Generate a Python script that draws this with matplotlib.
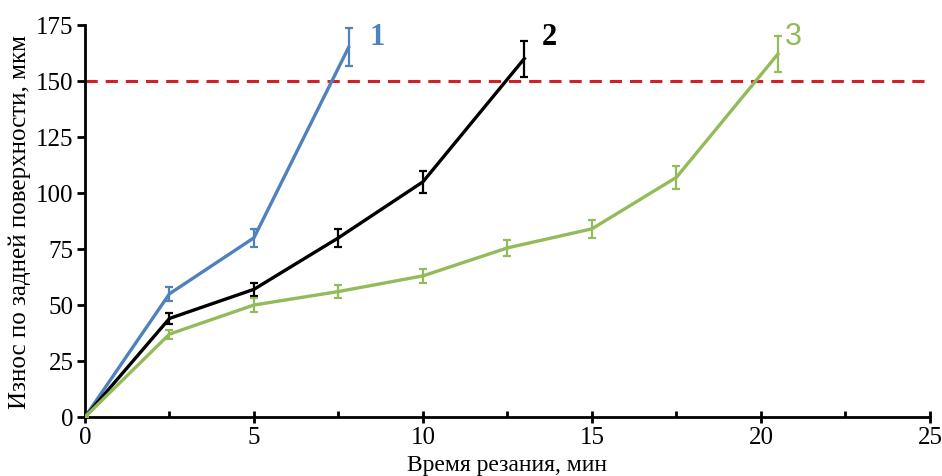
import matplotlib
matplotlib.use("Agg")
import matplotlib.pyplot as plt
from matplotlib.ticker import MultipleLocator

plt.rcParams['font.family'] = ['Liberation Serif', 'DejaVu Serif']

x1 = [0, 2.5, 5, 7.8]
y1 = [0, 55, 80, 165]
e1 = [0, 3, 4, 8.5]

x2 = [0, 2.5, 5, 7.5, 10, 13]
y2 = [0, 44, 57, 80, 105, 160]
e2 = [0, 2.5, 3, 4, 5, 8]

x3 = [0, 2.5, 5, 7.5, 10, 12.5, 15, 17.5, 20.5]
y3 = [0, 37, 50, 56, 63, 75.5, 84, 107, 162]
e3 = [0, 2, 3, 3, 3, 3.5, 4, 5, 8]

limit = 150
series_labels = ["1", "2", "3"]
xticks = [0, 5, 10, 15, 20, 25]
yticks = [0, 25, 50, 75, 100, 125, 150, 175]

blue = "#4f81bd"
green = "#93bb59"
black = "#000000"
red = "#d0202a"

fig = plt.figure(figsize=(9.42, 4.77), dpi=100)
ax = fig.add_axes([0.0902, 0.1237, 0.897, 0.8218])

ax.axhline(limit, color=red, lw=2.2, linestyle=(0, (4, 2.6)), zorder=1)

for xs, ys, es, c in [(x1, y1, e1, blue), (x2, y2, e2, black), (x3, y3, e3, green)]:
    ax.errorbar(xs, ys, yerr=es, color=c, lw=2.4, elinewidth=1.6, capsize=2.6,
                capthick=1.6, zorder=3)

ax.text(8.65, 170, series_labels[0], color=blue, fontsize=22, fontweight='bold',
        ha='center', va='center')
ax.text(13.75, 170, series_labels[1], color=black, fontsize=22, fontweight='bold',
        ha='center', va='center')
ax.text(20.95, 170, series_labels[2], color=green, fontsize=22,
        ha='center', va='center', family=['Liberation Sans', 'DejaVu Sans'])

ax.set_xlim(0, 25)
ax.set_ylim(0, 175)
ax.set_xticks(xticks)
ax.set_yticks(yticks)
ax.xaxis.set_minor_locator(MultipleLocator(2.5))

for s in ['top', 'right']:
    ax.spines[s].set_visible(False)
for s in ['left', 'bottom']:
    ax.spines[s].set_linewidth(2)

ax.tick_params(axis='x', which='major', direction='inout', length=9, width=2,
               labelsize=18, pad=2)
ax.tick_params(axis='x', which='minor', direction='in', length=4, width=2)
ax.tick_params(axis='y', which='major', direction='out', length=6, width=2,
               labelsize=18, pad=2)

ax.set_xlabel("Время резания, мин", fontsize=17, labelpad=4)
ax.set_ylabel("Износ по задней поверхности, мкм", fontsize=18, labelpad=4)

fig.savefig("out.png", dpi=100)
